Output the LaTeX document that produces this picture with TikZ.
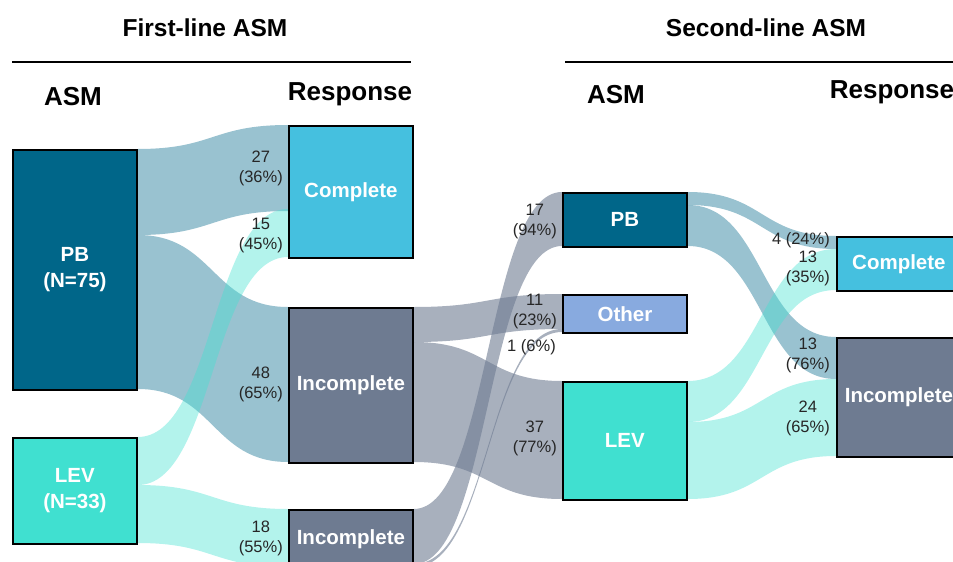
\documentclass[tikz,border=0pt]{standalone}
\usepackage{fontspec}
\setmainfont{Liberation Sans}
\usepackage{xcolor}
\usetikzlibrary{calc,backgrounds}

\definecolor{pbblue}{RGB}{0,102,137}
\definecolor{levgreen}{RGB}{64,224,208}
\definecolor{compcyan}{RGB}{69,192,223}
\definecolor{incslate}{RGB}{110,123,145}
\definecolor{othblue}{RGB}{136,170,223}

% ribbon between two boxes: from, top, bottom, to, top, bottom, style
\newcommand{\flowband}[7]{%
  \fill[#7] ($(#1.north east)+(0,#2)$) .. controls +(76,0) and +(-76,0) .. ($(#4.north west)+(0,#5)$)
    -- ($(#4.north west)+(0,#6)$) .. controls +(-76,0) and +(76,0) .. ($(#1.north east)+(0,#3)$) -- cycle;}

\begin{document}
\begin{tikzpicture}[x=1pt, y=-1pt,
    asmbox/.style={draw=black, line width=1.8pt, anchor=north west, minimum width=124pt,
      inner sep=0pt, text=white, align=center, font=\fontsize{20.5}{26}\selectfont\bfseries},
    flowlabel/.style={anchor=east, align=center, inner sep=0pt, text=black!85,
      font=\fontsize{16.5}{20}\selectfont},
    tophead/.style={font=\fontsize{24.5}{29}\selectfont\bfseries},
    colhead/.style={font=\fontsize{26}{31}\selectfont\bfseries},
    pbflow/.style={fill=pbblue, fill opacity=0.4},
    levflow/.style={fill=levgreen, fill opacity=0.4},
    incflow/.style={fill=incslate, fill opacity=0.6}]
    \useasboundingbox (0,0) rectangle (953,562);
    \clip (0,0) rectangle (953,562);

    % headers
    \node[tophead] (firsthead) at (205,28) {First-line ASM};
    \node[tophead] (secondhead) at (766,28) {Second-line ASM};
    \coordinate (ruleAl) at (12,62);
    \coordinate (ruleAr) at (411,62);
    \coordinate (ruleBl) at (565,62);
    \coordinate (ruleBr) at (960,62);
    \draw[line width=1.8pt] (ruleAl) -- (ruleAr);
    \draw[line width=1.8pt] (ruleBl) -- (ruleBr);
    \node[colhead] (asmA) at (73,97) {ASM};
    \node[colhead] (respA) at (350,94) {Response};
    \node[colhead] (asmB) at (616,95) {ASM};
    \node[colhead] (respB) at (892,92) {Response};

    % boxes
    \node[asmbox, fill=pbblue, minimum height=240pt] (pbA) at (12,149) {PB\\(N=75)};
    \node[asmbox, fill=levgreen, minimum height=106pt] (levA) at (12,437) {LEV\\(N=33)};
    \node[asmbox, fill=compcyan, minimum height=132pt] (compA) at (288,125) {Complete};
    \node[asmbox, fill=incslate, minimum height=155pt] (incA) at (288,307) {Incomplete};
    \node[asmbox, fill=incslate, minimum height=58pt] (incB) at (288,509) {Incomplete};
    \node[asmbox, fill=pbblue, minimum height=54pt] (pbB) at (562,192) {PB};
    \node[asmbox, fill=othblue, minimum height=38pt] (othB) at (562,294) {Other};
    \node[asmbox, fill=levgreen, minimum height=118pt] (levB) at (562,381) {LEV};
    \node[asmbox, fill=compcyan, minimum height=54pt] (compC) at (836,236) {Complete};
    \node[asmbox, fill=incslate, minimum height=119pt] (incC) at (836,337) {Incomplete};

    % ribbons (behind the boxes)
    \begin{pgfonlayer}{background}
      \flowband{pbA}{0}{86}{compA}{0}{86}{pbflow}
      \flowband{pbA}{86}{240}{incA}{0}{155}{pbflow}
      \flowband{levA}{0}{48}{compA}{84}{132}{levflow}
      \flowband{levA}{48}{106}{incB}{0}{58}{levflow}
      \flowband{incA}{0}{35}{othB}{0}{35}{incflow}
      \flowband{incA}{35}{155}{levB}{0}{118}{incflow}
      \flowband{incB}{0}{55}{pbB}{0}{54}{incflow}
      \flowband{incB}{55}{58}{othB}{35}{38}{incflow}
      \flowband{pbB}{0}{13}{compC}{0}{13}{pbflow}
      \flowband{pbB}{13}{54}{incC}{0}{42}{pbflow}
      \flowband{levB}{0}{41}{compC}{13}{54}{levflow}
      \flowband{levB}{41}{118}{incC}{42}{119}{levflow}
    \end{pgfonlayer}

    % counts
    \node[flowlabel] (l27) at ($(compA.north west)+(-5,43)$) {27\\(36\%)};
    \node[flowlabel] (l15) at ($(compA.north west)+(-5,111)$) {15\\(45\%)};
    \node[flowlabel] (l48) at ($(incA.north west)+(-5,77)$) {48\\(65\%)};
    \node[flowlabel] (l18) at ($(incB.north west)+(-5,29)$) {18\\(55\%)};
    \node[flowlabel] (l17) at ($(pbB.north west)+(-5,30)$) {17\\(94\%)};
    \node[flowlabel] (l11) at ($(othB.north west)+(-5,18)$) {11\\(23\%)};
    \node[flowlabel] (l1) at ($(othB.north west)+(-6,53)$) {1 (6\%)};
    \node[flowlabel] (l37) at ($(levB.north west)+(-5,57)$) {37\\(77\%)};
    \node[flowlabel] (l4) at ($(compC.north west)+(-6,4)$) {4 (24\%)};
    \node[flowlabel] (l13a) at ($(compC.north west)+(-6,32)$) {13\\(35\%)};
    \node[flowlabel] (l13b) at ($(incC.north west)+(-6,18)$) {13\\(76\%)};
    \node[flowlabel] (l24) at ($(incC.north west)+(-6,81)$) {24\\(65\%)};
\end{tikzpicture}
\end{document}
